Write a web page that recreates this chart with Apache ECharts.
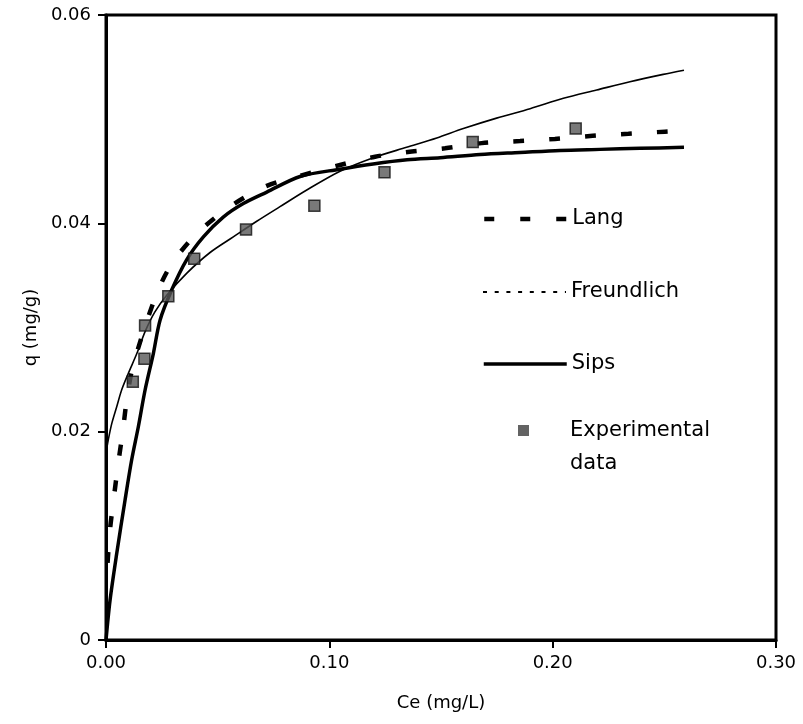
<!DOCTYPE html>
<html>
<head>
<meta charset="utf-8">
<script src="https://cdn.jsdelivr.net/npm/echarts@6/dist/echarts.min.js"></script>
<style>
  html, body { margin: 0; padding: 0; background: #fff; }
  #chart { width: 803px; height: 724px; }
</style>
</head>
<body>
<div id="chart"></div>
<script>
// Adsorption isotherm: equilibrium concentration Ce (mg/L) vs uptake q (mg/g)

// Experimental data
const expCe = [0.0120, 0.0172, 0.0175, 0.0279, 0.0395, 0.0627, 0.0933, 0.1247, 0.1642, 0.2103];
const expQ  = [0.0248, 0.0270, 0.0302, 0.0330, 0.0366, 0.0394, 0.0417, 0.0449, 0.0478, 0.0491];

// Langmuir fit
const langCe = [0.0007, 0.0018, 0.0036, 0.0055, 0.0075, 0.0095, 0.0122, 0.0219, 0.0291, 0.0406,
                0.0555, 0.0720, 0.0876, 0.1048, 0.1205, 0.1369, 0.1518, 0.1682, 0.1854, 0.2010,
                0.2179, 0.2339, 0.2503, 0.2588];
const langQ  = [0.0074, 0.0106, 0.0138, 0.0170, 0.0200, 0.0234, 0.0264, 0.0328, 0.0360, 0.0390,
                0.0416, 0.0436, 0.0446, 0.0456, 0.0464, 0.0469, 0.0472, 0.0477, 0.0479, 0.0481,
                0.0484, 0.0486, 0.0488, 0.0489];

// Freundlich fit
const freundCe = [0.0005, 0.0010, 0.0026, 0.0048, 0.0070, 0.0100, 0.0138, 0.0175, 0.0219, 0.0272,
                  0.0361, 0.0466, 0.0570, 0.0675, 0.0779, 0.0899, 0.1048, 0.1197, 0.1346, 0.1481,
                  0.1600, 0.1749, 0.1899, 0.2048, 0.2197, 0.2346, 0.2495, 0.2588];
const freundQ  = [0.0186, 0.0192, 0.0208, 0.0224, 0.0240, 0.0256, 0.0275, 0.0296, 0.0315, 0.0331,
                  0.0352, 0.0372, 0.0387, 0.0402, 0.0416, 0.0432, 0.0450, 0.0463, 0.0473, 0.0482,
                  0.0491, 0.0501, 0.0510, 0.0520, 0.0528, 0.0536, 0.0543, 0.0547];

// Sips fit
const sipsCe = [0.0000, 0.0018, 0.0048, 0.0085, 0.0115, 0.0145, 0.0175, 0.0212, 0.0242, 0.0294,
                0.0361, 0.0436, 0.0525, 0.0615, 0.0720, 0.0869, 0.1048, 0.1196, 0.1348, 0.1496,
                0.1675, 0.1854, 0.2033, 0.2212, 0.2391, 0.2588];
const sipsQ  = [0.0000, 0.0038, 0.0083, 0.0134, 0.0173, 0.0205, 0.0240, 0.0275, 0.0307, 0.0336,
                0.0365, 0.0387, 0.0406, 0.0419, 0.0430, 0.0445, 0.0452, 0.0457, 0.0461, 0.0463,
                0.0466, 0.0468, 0.0470, 0.0471, 0.0472, 0.0473];

// Axis tick labels
const xTickLabels = ['0.00', '0.10', '0.20', '0.30'];
const yTickLabels = ['0', '0.02', '0.04', '0.06'];

const pairs = (xs, ys) => xs.map((x, i) => [x, ys[i]]);

const FONT = 'DejaVu Sans';
const legendText = { fontFamily: FONT, fontSize: 21, color: '#000', lineHeight: 24 };
const MARKER_FILL = '#585858';
const MARKER_EDGE = '#111';

const chart = echarts.init(document.getElementById('chart'), null, { renderer: 'canvas' });

// One legend entry per line series: a line sample with no symbol on it
function lineLegend(name, top, lineStyle) {
  return {
    left: 482, top: top, padding: 0,
    itemWidth: 83, itemHeight: 14,
    selectedMode: false,
    textStyle: legendText,
    data: [{ name: name, lineStyle: lineStyle, itemStyle: { opacity: 0 } }]
  };
}

chart.setOption({
  backgroundColor: '#fff',
  animation: false,
  grid: {
    left: 106, right: 27, top: 15, bottom: 84,
    show: true, borderColor: '#000', borderWidth: 3, backgroundColor: 'transparent'
  },
  xAxis: {
    type: 'value', min: 0, max: 0.3, interval: 0.1,
    name: 'Ce (mg/L)', nameLocation: 'middle', nameGap: 54,
    nameTextStyle: { fontFamily: FONT, fontSize: 18, color: '#000' },
    axisLine: { show: true, onZero: false, lineStyle: { color: '#000', width: 3 } },
    axisTick: { show: true, inside: false, length: 8, lineStyle: { color: '#000', width: 2 } },
    axisLabel: {
      margin: 14, fontFamily: FONT, fontSize: 18, color: '#000',
      formatter: v => xTickLabels[Math.round(v / 0.1)]
    },
    splitLine: { show: false }
  },
  yAxis: {
    type: 'value', min: 0, max: 0.06, interval: 0.02,
    name: 'q (mg/g)', nameLocation: 'middle', nameGap: 66, nameRotate: 90,
    nameTextStyle: { fontFamily: FONT, fontSize: 18, color: '#000' },
    axisLine: { show: true, onZero: false, lineStyle: { color: '#000', width: 3 } },
    axisTick: { show: true, inside: false, length: 8, lineStyle: { color: '#000', width: 2 } },
    axisLabel: {
      margin: 15, fontFamily: FONT, fontSize: 18, color: '#000',
      formatter: v => yTickLabels[Math.round(v / 0.02)]
    },
    splitLine: { show: false }
  },
  legend: [
    lineLegend('Lang', 207, { color: '#000', width: 4.5, type: [10, 26] }),
    lineLegend('Freundlich', 280, { color: '#000', width: 2, type: [4, 7.7] }),
    lineLegend('Sips', 352, { color: '#000', width: 3.5, type: 'solid' }),
    {
      // marker centred in an 83px-wide icon box; the blank first line keeps
      // "Experimental" level with the marker and puts "data" underneath
      left: 482, top: 381, padding: 0,
      itemWidth: 83, itemHeight: 11,
      selectedMode: false,
      symbolKeepAspect: false,
      formatter: () => ' \nExperimental\ndata',
      textStyle: { fontFamily: FONT, fontSize: 21, color: '#000', lineHeight: 33 },
      itemStyle: { color: '#3c3c3c', borderWidth: 0 },
      data: [{
        name: 'Experimental data',
        icon: 'path://M0,0h0.01v0.01h-0.01z M36,0h11v11h-11z M82.99,10.99h0.01v0.01h-0.01z',
        itemStyle: { color: '#3c3c3c', borderWidth: 0 }
      }]
    }
  ],
  series: [
    {
      name: 'Lang', type: 'line', data: pairs(langCe, langQ),
      symbol: 'none', smooth: 0.3, z: 3,
      lineStyle: { color: '#000', width: 4.5, type: [11, 25] }
    },
    {
      name: 'Freundlich', type: 'line', data: pairs(freundCe, freundQ),
      symbol: 'none', smooth: 0.3, z: 3,
      lineStyle: { color: '#000', width: 1.6, type: 'solid' }
    },
    {
      name: 'Sips', type: 'line', data: pairs(sipsCe, sipsQ),
      symbol: 'none', smooth: 0.3, z: 3,
      lineStyle: { color: '#000', width: 3.5, type: 'solid' }
    },
    {
      name: 'Experimental data', type: 'scatter', data: pairs(expCe, expQ),
      symbol: 'rect', symbolSize: 11, z: 5,
      itemStyle: { color: MARKER_FILL, borderColor: MARKER_EDGE, borderWidth: 1.5 }
    }
  ]
});
</script>
</body>
</html>
